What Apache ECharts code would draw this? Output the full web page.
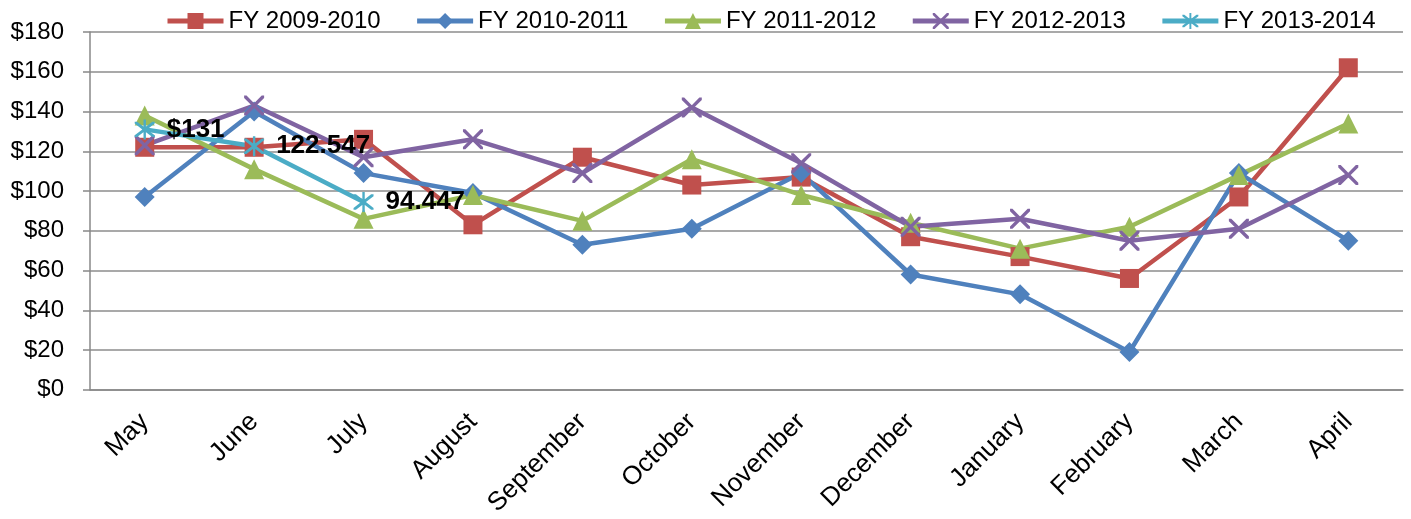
<!DOCTYPE html>
<html lang="en">
<head>
    <meta charset="utf-8">
    <title>FY monthly chart</title>
    <script src="https://cdn.jsdelivr.net/npm/echarts@6/dist/echarts.min.js"></script>
    <style>
        html, body { margin: 0; padding: 0; background: #fff; }
        #main { width: 1411px; height: 519px; }
    </style>
</head>
<body>
<div id="main"></div>
<script type="text/javascript">
    var months = ['May', 'June', 'July', 'August', 'September', 'October', 'November',
                  'December', 'January', 'February', 'March', 'April'];
    var fy0910 = [122, 122, 126, 83, 117, 103, 107, 77, 67, 56, 97, 162];
    var fy1011 = [97, 140, 109, 99, 73, 81, 109, 58, 48, 19, 109, 75];
    var fy1112 = [138, 111, 86, 98, 85, 116, 98, 84, 71, 82, 108, 134];
    var fy1213 = [123, 143, 117, 126, 109, 142, 114, 82, 86, 75, 81, 108];
    var fy1314 = [131, 122.547, 94.447];
    var fy1314Labels = ['$131', '122.547', '94.447'];

    var font = '"Liberation Sans", Arial, sans-serif';
    // X cross and asterisk as filled paths
    var crossPath = 'path://M0,0L1.2,0L5,3.8L8.8,0L10,0L10,1.2L6.2,5L10,8.8L10,10L8.8,10L5,6.2L1.2,10L0,10L0,8.8L3.8,5L0,1.2Z';
    var starPath = 'path://M0,0L1.2,0L5,3.8L8.8,0L10,0L10,1.2L6.2,5L10,8.8L10,10L8.8,10L5,6.2L1.2,10L0,10L0,8.8L3.8,5L0,1.2Z' +
                   'M4.4,-1.5L5.6,-1.5L5.6,11.5L4.4,11.5Z';

    function line(name, data, color, symbol, size) {
        return {
            name: name,
            type: 'line',
            data: data,
            symbol: symbol,
            symbolSize: size,
            lineStyle: {color: color, width: 4.5},
            itemStyle: {color: color},
            emphasis: {disabled: true}
        };
    }

    var myChart = echarts.init(document.getElementById('main'));
    var cyan = line('FY 2013-2014', fy1314, '#4BACC6', starPath, 20);
    cyan.label = {
        show: true,
        position: 'right',
        distance: 12,
        color: '#000',
        fontWeight: 'bold',
        fontSize: 26,
        fontFamily: font,
        formatter: function (p) { return fy1314Labels[p.dataIndex]; }
    };

    myChart.setOption({
        animation: false,
        textStyle: {fontFamily: font},
        legend: {
            left: 160,
            top: 4,
            itemWidth: 56,
            itemHeight: 20,
            itemGap: 34,
            lineStyle: {width: 5},
            textStyle: {fontSize: 24, color: '#000', fontFamily: font}
        },
        grid: {left: 90, right: 8, top: 32, bottom: 128},
        xAxis: {
            type: 'category',
            data: months,
            boundaryGap: true,
            axisLine: {lineStyle: {color: '#888', width: 1.5}},
            axisTick: {length: 6, lineStyle: {color: '#888', width: 1.5}},
            axisLabel: {rotate: 45, fontSize: 26, color: '#000', margin: 28, interval: 0}
        },
        yAxis: {
            type: 'value',
            min: 0,
            max: 180,
            interval: 20,
            axisLine: {show: true, lineStyle: {color: '#888', width: 1.5}},
            axisTick: {show: true, length: 7, lineStyle: {color: '#888', width: 1.5}},
            axisLabel: {fontSize: 24, color: '#000', margin: 26,
                        formatter: function (v) { return '$' + v; }},
            splitLine: {lineStyle: {color: '#8c8c8c', width: 1.5}}
        },
        series: [
            line('FY 2009-2010', fy0910, '#C0504D', 'rect', 19),
            line('FY 2010-2011', fy1011, '#4F81BD', 'diamond', 20),
            line('FY 2011-2012', fy1112, '#9BBB59', 'triangle', 20),
            line('FY 2012-2013', fy1213, '#8064A2', crossPath, 20),
            cyan
        ]
    });
</script>
</body>
</html>
